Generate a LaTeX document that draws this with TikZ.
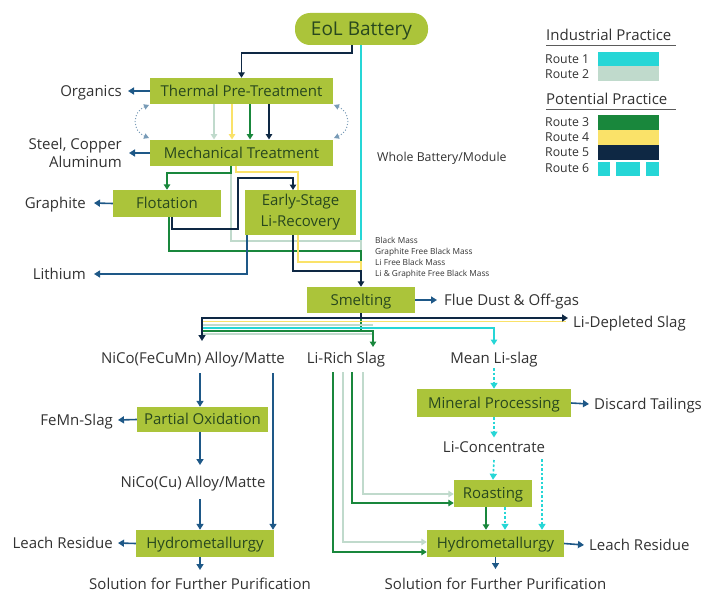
\documentclass[tikz,border=0pt]{standalone}
\usepackage{fontspec}
\setmainfont{Open Sans}
\usetikzlibrary{arrows.meta}
\definecolor{boxfill}{RGB}{171,196,58}
\definecolor{boxtext}{RGB}{40,72,30}
\definecolor{lbltext}{RGB}{50,50,50}
\definecolor{flowblue}{RGB}{30,88,135}
\definecolor{rnavy}{RGB}{14,40,68}
\definecolor{rgreen}{RGB}{25,135,60}
\definecolor{ryellow}{RGB}{250,226,105}
\definecolor{rpale}{RGB}{192,218,204}
\definecolor{rcyan}{RGB}{38,214,214}
\begin{document}
\begin{tikzpicture}[x=1pt,y=-1pt,
  >={Triangle[length=6pt,width=7pt]},
  box/.style={fill=boxfill,text=boxtext,inner sep=0pt,font=\fontsize{15}{18}\selectfont,text height=10.5pt,text depth=0pt},
  box2/.style={fill=boxfill,text=boxtext,inner sep=0pt,font=\fontsize{15}{21}\selectfont,align=center},
  lbl/.style={text=lbltext,inner sep=0pt,font=\fontsize{15}{18}\selectfont,text height=10.5pt,text depth=0pt},
  lbl2/.style={text=lbltext,inner sep=0pt,font=\fontsize{15}{17.5}\selectfont,align=right},
  small/.style={text=lbltext,inner sep=0pt,font=\fontsize{8.3}{10}\selectfont,text height=6pt,text depth=0pt,anchor=west},
  rte/.style={text=lbltext,inner sep=0pt,font=\fontsize{12.3}{14}\selectfont,text height=8.8pt,text depth=0pt,anchor=west},
  flow/.style={draw=flowblue,line width=1.6pt,->},
  ra/.style={draw=rcyan,line width=1.8pt},
  rb/.style={draw=rpale,line width=1.8pt},
  rc/.style={draw=rgreen,line width=1.8pt},
  rd/.style={draw=ryellow,line width=1.8pt},
  re/.style={draw=rnavy,line width=1.8pt},
  rf/.style={draw=rcyan,line width=1.6pt,dash pattern=on 2.5pt off 2pt,->},
  tip/.style={-{Triangle[length=5.5pt,width=6.5pt]}}
]
\useasboundingbox (0,0) rectangle (717,594);

% ---------- boxes ----------
\node[fill=boxfill,text=boxtext,rounded corners=15pt,minimum width=133pt,minimum height=32pt,inner sep=0pt,font=\fontsize{19}{22}\selectfont,text height=13.5pt,text depth=0pt] (eol) at (361.5,29) {EoL Battery};
\node[box,minimum width=183pt,minimum height=26pt] (thermal) at (241.5,91) {Thermal Pre-Treatment};
\node[box,minimum width=183pt,minimum height=26pt] (mech) at (241.5,153) {Mechanical Treatment};
\node[box,minimum width=108pt,minimum height=27pt] (flot) at (167,203.5) {Flotation};
\node[box2,minimum width=111pt,minimum height=45pt] (early) at (300.5,212.5) {Early-Stage\\Li-Recovery};
\node[box,minimum width=108pt,minimum height=26pt] (smelt) at (361,300) {Smelting};
\node[box,minimum width=131pt,minimum height=25pt] (partox) at (202.5,419.5) {Partial Oxidation};
\node[box,minimum width=138pt,minimum height=27pt] (hydroL) at (205,543.5) {Hydrometallurgy};
\node[box,minimum width=154pt,minimum height=28pt] (mineral) at (494,403) {Mineral Processing};
\node[box,minimum width=78pt,minimum height=27pt] (roast) at (493,493.5) {Roasting};
\node[box,minimum width=137pt,minimum height=27pt] (hydroR) at (495.5,543.5) {Hydrometallurgy};

% ---------- labels ----------
\node[lbl,anchor=east] (organics) at (122,91) {Organics};
\node[lbl2,anchor=east] (steel) at (122,153) {Steel, Copper\\Aluminum};
\node[lbl,anchor=east] (graphite) at (86,203) {Graphite};
\node[lbl,anchor=east] (lithium) at (86,274) {Lithium};
\node[rte,anchor=west] (whole) at (377,157) {Whole Battery/Module};
\node[small] (bm1) at (375,240.5) {Black Mass};
\node[small] (bm2) at (375,251) {Graphite Free Black Mass};
\node[small] (bm3) at (375,262) {Li Free Black Mass};
\node[small] (bm4) at (375,273.5) {Li \& Graphite Free Black Mass};
\node[lbl,anchor=west] (flue) at (444,300) {Flue Dust \& Off-gas};
\node[lbl,anchor=west] (lidep) at (573,322) {Li-Depleted Slag};
\node[lbl] (nicofe) at (193,358) {NiCo(FeCuMn) Alloy/Matte};
\node[lbl] (lirich) at (346,358) {Li-Rich Slag};
\node[lbl] (meanli) at (494,358) {Mean Li-slag};
\node[lbl,anchor=east] (femn) at (113,420) {FeMn-Slag};
\node[lbl] (nicocu) at (193,482) {NiCo(Cu) Alloy/Matte};
\node[lbl,anchor=east] (leachL) at (113,543) {Leach Residue};
\node[lbl] (solL) at (200,584) {Solution for Further Purification};
\node[lbl,anchor=west] (discard) at (594,404) {Discard Tailings};
\node[lbl] (liconc) at (494,447) {Li-Concentrate};
\node[lbl,anchor=west] (leachR) at (589,545) {Leach Residue};
\node[lbl] (solR) at (495.5,584) {Solution for Further Purification};

% ---------- top routes ----------
\draw[re,tip] ([xshift=-9.5pt]eol.south) |- (241.5,53) -- (thermal.north);
\draw[ra] ([xshift=-0.5pt]eol.south) -- (361,241);
\draw[rb,tip] (214,104) -- (214,139.5);
\draw[rd,tip] (232,104) -- (232,139.5);
\draw[rc,tip] (250,104) -- (250,139.5);
\draw[re,tip] (269,104) -- (269,139.5);
\draw[draw=flowblue!60,line width=1pt,dotted,{Triangle[length=5pt,width=5.5pt]}-{Triangle[length=5pt,width=5.5pt]}]
  (149,105) .. controls (132,112) and (132,131) .. (149,138);
\draw[draw=flowblue!60,line width=1pt,dotted,{Triangle[length=5pt,width=5.5pt]}-{Triangle[length=5pt,width=5.5pt]}]
  (334,105) .. controls (351,112) and (351,131) .. (334,138);

\draw[flow] (thermal.west) -- ([xshift=6pt]organics.east);
\draw[flow] (mech.west) -- ([xshift=7pt]steel.east);
\draw[flow] (flot.west) -- ([xshift=8pt]graphite.east);

% mechanical -> flotation / early stage / black mass
\draw[rb] (231,166) |- (361,241) -- (361,251);
\draw[rd] (236,166) -- (236,172) -- (298,172) -- (298,190);
\draw[rc,tip] (231,166) |- (167,173) -- (flot.north);
\draw[re,tip] (172,217) |- (238,229) |- (293,178) -- (293,190);
\draw[rc] (169,217) |- (361,251) -- (361,262);
\draw[rd] (298,235) |- (361,262) -- (361,271);
\draw[re] (293,235) |- (361,271);
\draw[re,tip] (361,270) -- (smelt.north);
\draw[flow] (247,235) |- ([xshift=8pt]lithium.east);
\draw[flow] (smelt.east) -- ([xshift=-7pt]flue.west);

% ---------- smelting outputs ----------
\draw[rb] (202,334) -- (373,334);
\draw[rc,tip] (202,331) -- (373,331) -- (373,347);
\draw[rc] (361,318) -- (361,331);
\draw[ra,tip] (202,328) -- (494,328) -- (494,345);
\draw[rb] (202,325) -- (373,325);
\draw[rd] (202,321.5) -- (566,321.5);
\draw[re] (smelt.south) -- (361,318);
\draw[re,{Triangle[length=6pt,width=7pt]}-{Triangle[length=6pt,width=7pt]}] (202,341) |- (568,318);

% ---------- left column ----------
\draw[flow] (200,373) -- (partox.north -| 200,0);
\draw[flow] (partox.west) -- ([xshift=5pt]femn.east);
\draw[flow] (partox.south -| 200,0) -- (200,465);
\draw[flow] (200,499) -- (hydroL.north -| 200,0);
\draw[flow] (273,373) -- (hydroL.north -| 273,0);
\draw[flow] (hydroL.west) -- ([xshift=5pt]leachL.east);
\draw[flow] (hydroL.south -| 200,0) -- (200,570);

% ---------- right column ----------
\draw[rc,tip] (333,372) |- (hydroR.west |- 0,552);
\draw[rb,tip] (343,372) |- (hydroR.west |- 0,542);
\draw[rc,tip] (352,372) |- (roast.west |- 0,503);
\draw[rb,tip] (363,372) |- (roast.west |- 0,494);
\draw[rf] (494,368) -- (mineral.north);
\draw[rf] (mineral.south) -- (494,437.5);
\draw[rf] (494,460) -- (roast.north);
\draw[rf] (542,459) -- (hydroR.north -| 542,0);
\draw[rc,tip] (roast.south -| 486,0) -- (hydroR.north -| 486,0);
\draw[rf] (roast.south -| 505,0) -- (hydroR.north -| 505,0);
\draw[flow] (mineral.east) -- ([xshift=-5pt]discard.west);
\draw[flow] (hydroR.east) -- ([xshift=-5pt]leachR.west);
\draw[flow] (hydroR.south) -- (495.5,569);

% ---------- legend ----------
\node[lbl,anchor=west] (ind) at (546,35) {Industrial Practice};
\draw[lbltext!80,line width=1.1pt] (546,45.5) -- (676,45.5);
\node[rte] (l1) at (545,59) {Route 1};
\node[rte] (l2) at (545,74) {Route 2};
\fill[rcyan] (598,52) rectangle (659,66.5);
\fill[rpale] (598,66.5) rectangle (659,81);
\node[lbl,anchor=west] (pot) at (546,99) {Potential Practice};
\draw[lbltext!80,line width=1.1pt] (546,109.5) -- (676,109.5);
\node[rte] (l3) at (545,122.5) {Route 3};
\node[rte] (l4) at (545,137.5) {Route 4};
\node[rte] (l5) at (545,152) {Route 5};
\node[rte] (l6) at (545,168.5) {Route 6};
\fill[rgreen] (598,115) rectangle (659,130);
\fill[ryellow] (598,130) rectangle (659,145);
\fill[rnavy] (598,145) rectangle (659,160);
\fill[rcyan] (598,162) rectangle (610,176);
\fill[rcyan] (616,162) rectangle (640,176);
\fill[rcyan] (646,162) rectangle (659,176);
\end{tikzpicture}
\end{document}
